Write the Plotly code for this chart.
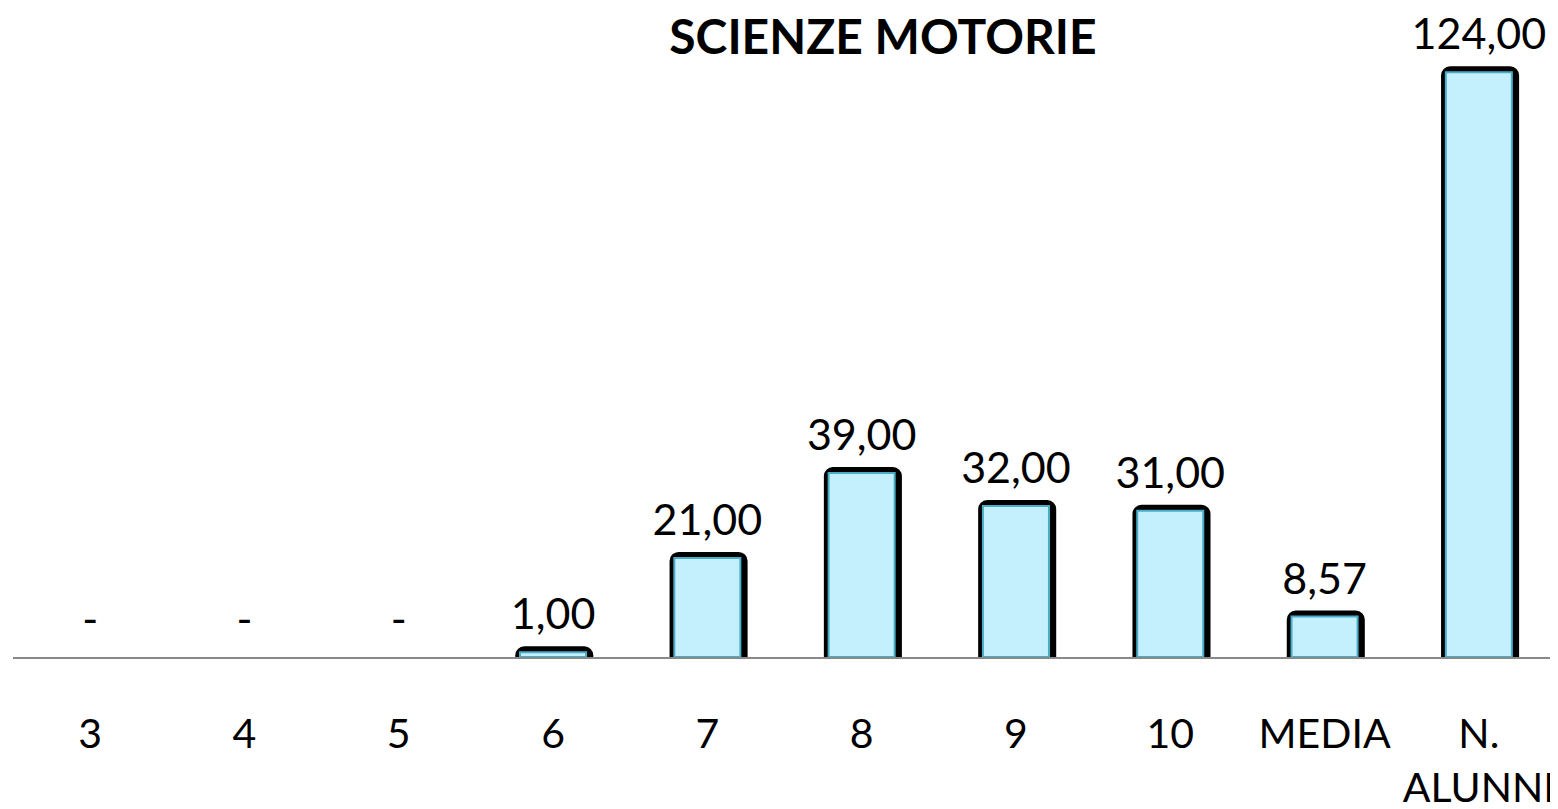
import plotly.graph_objects as go

categories = ["3", "4", "5", "6", "7", "8", "9", "10", "MEDIA", "N.<br>ALUNNI"]
values = [0, 0, 0, 1, 21, 39, 32, 31, 8.57, 124]

labels = ["-" if v == 0 else f"{v:.2f}".replace(".", ",") for v in values]

FONT = "Lato, 'Open Sans', sans-serif"
BAR_W = 0.428

fig = go.Figure()

# black rounded "shadow" behind each bar (none for empty bars)
fig.add_trace(go.Bar(
    x=categories, y=values, width=BAR_W, offset=-BAR_W / 2 + 0.008,
    marker=dict(color="#000000",
                line=dict(color="#000000", width=[0 if v == 0 else 12 for v in values]),
                cornerradius=3),
    hoverinfo="skip", showlegend=False,
))

# light cyan bar with teal border
fig.add_trace(go.Bar(
    x=categories, y=values, width=BAR_W,
    marker=dict(color="#C4EFFC",
                line=dict(color="#4AADC7", width=[0 if v == 0 else 2 for v in values])),
    showlegend=False,
))

# value labels (invisible markers just push the text up a bit)
fig.add_trace(go.Scatter(
    x=categories, y=values, mode="markers+text", text=labels,
    textposition="top center", cliponaxis=False,
    marker=dict(size=18, color="rgba(0,0,0,0)"),
    textfont=dict(family=FONT, size=43, color="#000000"),
    hoverinfo="skip", showlegend=False,
))

# page body has an 8px margin, so the figure is 16px smaller than the window
fig.update_layout(
    width=1550, height=801,
    barmode="overlay",
    plot_bgcolor="white", paper_bgcolor="white",
    margin=dict(l=5, r=2, t=52, b=152),
    title=dict(
        text="<b>SCIENZE MOTORIE</b>",
        x=0.5645, xanchor="center", y=0.964, yanchor="middle",
        font=dict(family=FONT, size=48, color="#000000"),
    ),
    xaxis=dict(
        type="category", tickangle=0, range=[-0.5, len(categories) - 0.5],
        showline=True, linecolor="#898989", linewidth=2,
        showgrid=False, zeroline=False, automargin=False,
        ticks="outside", ticklen=40, tickcolor="rgba(0,0,0,0)",
        tickfont=dict(family=FONT, size=41, color="#000000"),
    ),
    yaxis=dict(
        range=[0, 126.6], visible=False, showgrid=False, zeroline=False,
    ),
)

fig.write_html("out.html")
